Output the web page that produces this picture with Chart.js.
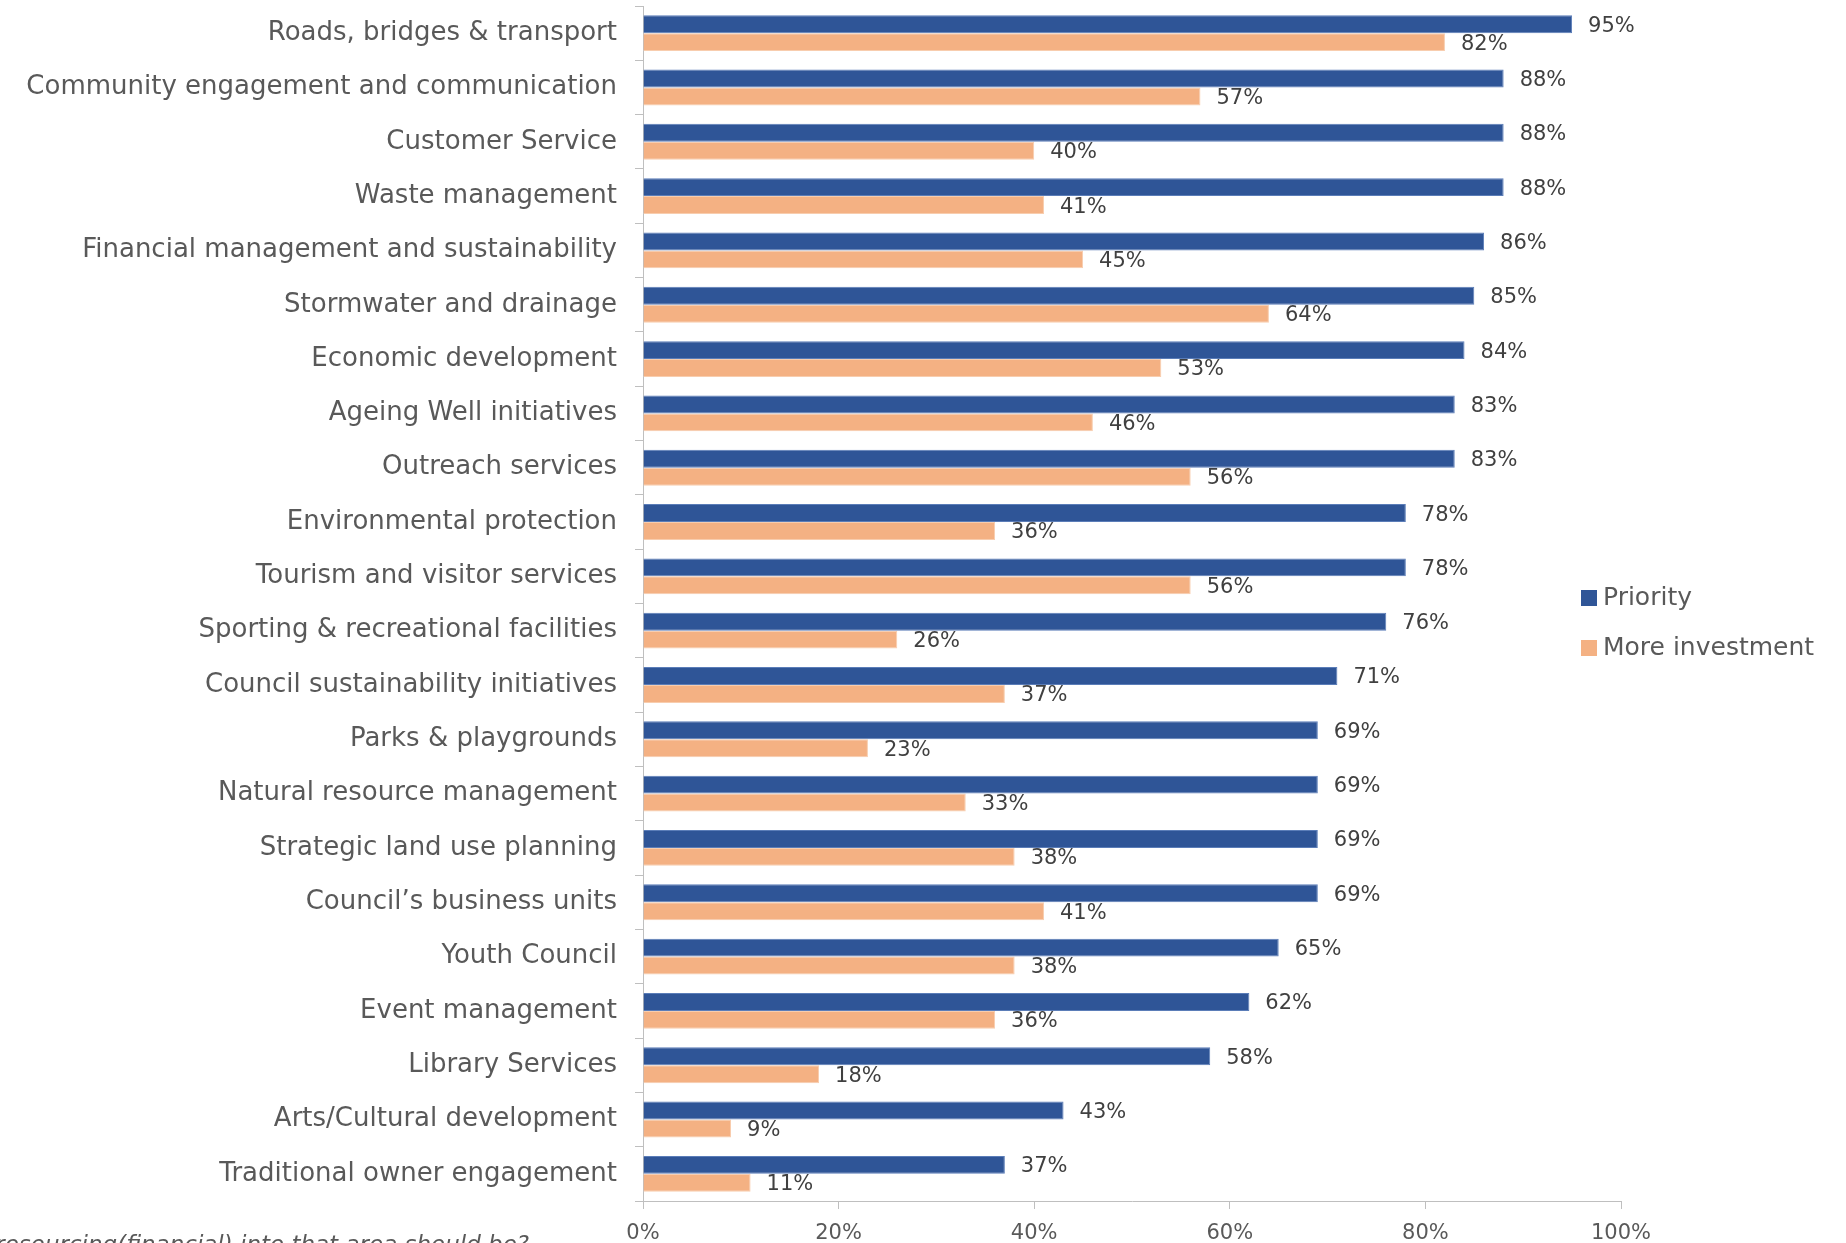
<!DOCTYPE html>
<html><head><meta charset="utf-8">
<script src="https://cdn.jsdelivr.net/npm/chart.js@4.4.0/dist/chart.umd.min.js"></script>
<style>html,body{margin:0;padding:0;background:#fff;overflow:hidden}#wrap{width:1846px;height:1243px;position:relative}</style>
</head><body><div id="wrap"><canvas id="c" width="1846" height="1243"></canvas></div>
<script>
const categories = [
  'Roads, bridges & transport',
  'Community engagement and communication',
  'Customer Service',
  'Waste management',
  'Financial management and sustainability',
  'Stormwater and drainage',
  'Economic development',
  'Ageing Well initiatives',
  'Outreach services',
  'Environmental protection',
  'Tourism and visitor services',
  'Sporting & recreational facilities',
  'Council sustainability initiatives',
  'Parks & playgrounds',
  'Natural resource management',
  'Strategic land use planning',
  'Council\u2019s business units',
  'Youth Council',
  'Event management',
  'Library Services',
  'Arts/Cultural development',
  'Traditional owner engagement'
];
const priority = [95, 88, 88, 88, 86, 85, 84, 83, 83, 78, 78, 76, 71, 69, 69, 69, 69, 65, 62, 58, 43, 37];
const moreInvestment = [82, 57, 40, 41, 45, 64, 53, 46, 56, 36, 56, 26, 37, 23, 33, 38, 41, 38, 36, 18, 9, 11];
const seriesNames = ['Priority', 'More investment'];
const xTickValues = [0, 20, 40, 60, 80, 100];
const footnote = 'resourcing(financial) into that area should be?';

const FONT = '"DejaVu Sans", sans-serif';
const COL_P = '#2F5597';
const COL_M = '#F4B183';

const valueLabels = {
  id: 'valueLabels',
  afterDatasetsDraw(chart) {
    const ctx = chart.ctx;
    ctx.save();
    ctx.font = '21px ' + FONT;
    ctx.fillStyle = '#404040';
    ctx.textAlign = 'left';
    ctx.textBaseline = 'middle';
    chart.data.datasets.forEach((ds, di) => {
      const meta = chart.getDatasetMeta(di);
      meta.data.forEach((bar, i) => {
        ctx.fillText(ds.data[i] + '%', bar.x + 16, bar.y + 2);
      });
    });
    ctx.restore();
  }
};

const sideLegend = {
  id: 'sideLegend',
  afterDraw(chart) {
    const ctx = chart.ctx;
    ctx.save();
    ctx.font = '25px ' + FONT;
    ctx.textBaseline = 'middle';
    ctx.textAlign = 'left';
    const ys = [598, 648];
    chart.data.datasets.forEach((ds, di) => {
      ctx.fillStyle = ds.backgroundColor;
      ctx.fillRect(1581, ys[di] - 8, 16, 16);
      ctx.fillStyle = '#595959';
      ctx.fillText(ds.label, 1603, ys[di]);
    });
    // footnote (clipped at the left and bottom edges)
    ctx.font = 'italic 23px ' + FONT;
    ctx.fillStyle = '#595959';
    ctx.textAlign = 'right';
    ctx.textBaseline = 'alphabetic';
    ctx.fillText(footnote, 529, 1252);
    ctx.restore();
  }
};

new Chart(document.getElementById('c'), {
  type: 'bar',
  data: {
    labels: categories,
    datasets: [
      { label: seriesNames[0], data: priority, backgroundColor: COL_P, borderColor: '#5B7DB8', borderWidth: 1, borderSkipped: 'left', categoryPercentage: 0.66, barPercentage: 1.0 },
      { label: seriesNames[1], data: moreInvestment, backgroundColor: COL_M, borderColor: '#F8CDAE', borderWidth: 1, borderSkipped: 'left', categoryPercentage: 0.66, barPercentage: 1.0 }
    ]
  },
  options: {
    indexAxis: 'y',
    responsive: false,
    animation: false,
    devicePixelRatio: 1,
    layout: { padding: { left: 0, right: 225, top: 6, bottom: 0 } },
    plugins: { legend: { display: false }, tooltip: { enabled: false } },
    scales: {
      x: {
        min: 0, max: 100,
        afterBuildTicks(scale) { scale.ticks = xTickValues.map(v => ({ value: v })); },
        afterFit(scale) { scale.height = 42; scale.paddingLeft = 0; scale.paddingRight = 0; },
        grid: { drawOnChartArea: false, drawTicks: true, tickLength: 8, color: '#BFBFBF' },
        border: { display: true, color: '#BFBFBF', width: 1 },
        ticks: { color: '#595959', font: { family: FONT, size: 21 }, padding: 12, callback: v => v + '%', maxRotation: 0 }
      },
      y: {
        afterFit(scale) { scale.width = 643; scale.paddingTop = 0; scale.paddingBottom = 0; },
        grid: { drawOnChartArea: false, drawTicks: true, tickLength: 8, color: '#BFBFBF', offset: true },
        border: { display: true, color: '#BFBFBF', width: 1 },
        ticks: { color: '#595959', font: { family: FONT, size: 26 }, padding: 18, autoSkip: false }
      }
    }
  },
  plugins: [valueLabels, sideLegend]
});
</script>
</body></html>
